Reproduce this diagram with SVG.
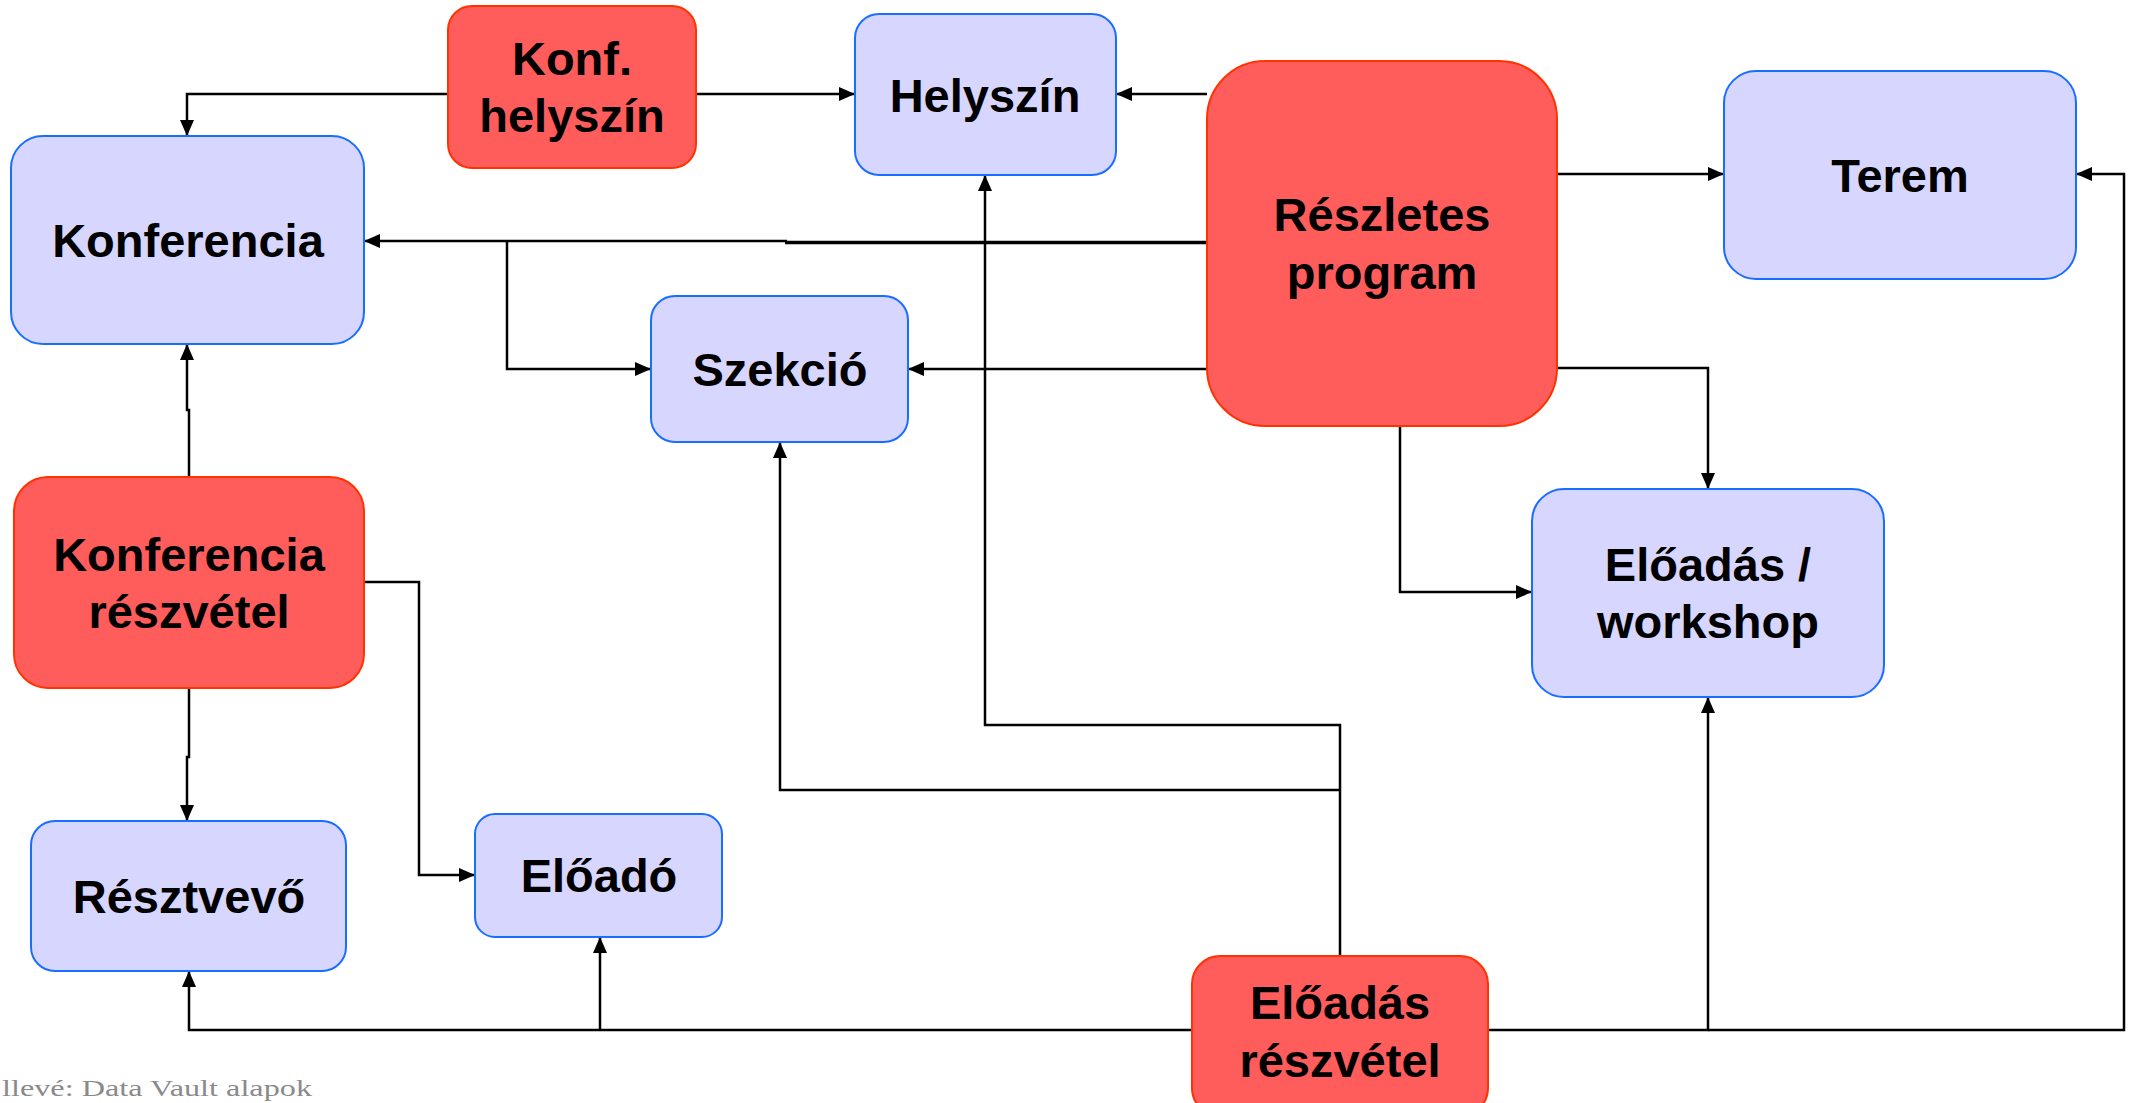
<svg xmlns="http://www.w3.org/2000/svg" width="2136" height="1103" viewBox="0 0 2136 1103">
  <defs>
    <marker id="arrow" viewBox="0 0 16 14" refX="16" refY="7" markerWidth="16" markerHeight="14" markerUnits="userSpaceOnUse" orient="auto">
      <path d="M0,0 L16,7 L0,14 z" fill="#000"/>
    </marker>
    <style>
      .entity { fill: #D6D6FF; stroke: #1A6EFF; stroke-width: 2; }
      .link { fill: #FF5C5C; stroke: #FF3300; stroke-width: 2; }
      .label { font-family: "Liberation Sans", Arial, sans-serif; font-weight: bold; font-size: 47px; fill: #000; text-anchor: middle; }
      .conn { fill: none; stroke: #000; stroke-width: 2.5; }
      .conn-arrow { marker-end: url(#arrow); }
      .caption { font-family: "Liberation Serif", "Times New Roman", serif; font-size: 24px; fill: #8a8a8a; }
    </style>
  </defs>

  <rect width="2136" height="1103" fill="#fff"/>

  <!-- connectors -->
  <g id="connectors">
    <path class="conn conn-arrow" d="M448,94 H187 V136"/>
    <path class="conn conn-arrow" d="M696,94 H855"/>
    <path class="conn conn-arrow" d="M1207,94 H1116"/>
    <path class="conn" d="M1207,242.5 H785" style="stroke-width:3.5"/>
    <path class="conn conn-arrow" d="M787,241 H364"/>
    <path class="conn conn-arrow" d="M507,241 V369 H651"/>
    <path class="conn conn-arrow" d="M1207,369 H908"/>
    <path class="conn conn-arrow" d="M1557,174 H1724"/>
    <path class="conn conn-arrow" d="M1557,368 H1708 V489"/>
    <path class="conn conn-arrow" d="M1400,426 V592 H1532"/>
    <path class="conn conn-arrow" d="M189,477 V410 H187 V344"/>
    <path class="conn conn-arrow" d="M189,688 V757 H187 V821"/>
    <path class="conn conn-arrow" d="M364,582 H419 V875 H475"/>
    <path class="conn conn-arrow" d="M1340,956 V725 H985 V175"/>
    <path class="conn conn-arrow" d="M1340,790 H780 V442"/>
    <path class="conn conn-arrow" d="M1192,1030 H189 V971"/>
    <path class="conn conn-arrow" d="M600,1030 V937"/>
    <path class="conn conn-arrow" d="M1488,1030 H1708 V697"/>
    <path class="conn conn-arrow" d="M1708,1030 H2124 V174 H2076"/>
  </g>

  <!-- nodes -->
  <g id="konf-helyszin">
    <rect class="link" x="448" y="6" width="248" height="162" rx="24"/>
    <text class="label" x="572" y="75">Konf.</text>
    <text class="label" x="572" y="132">helyszín</text>
  </g>
  <g id="helyszin">
    <rect class="entity" x="855" y="14" width="261" height="161" rx="24"/>
    <text class="label" x="985" y="112">Helyszín</text>
  </g>
  <g id="reszletes-program">
    <rect class="link" x="1207" y="61" width="350" height="365" rx="58"/>
    <text class="label" x="1382" y="231">Részletes</text>
    <text class="label" x="1382" y="289">program</text>
  </g>
  <g id="terem">
    <rect class="entity" x="1724" y="71" width="352" height="208" rx="32"/>
    <text class="label" x="1900" y="192">Terem</text>
  </g>
  <g id="konferencia">
    <rect class="entity" x="11" y="136" width="353" height="208" rx="32"/>
    <text class="label" x="188" y="257">Konferencia</text>
  </g>
  <g id="szekcio">
    <rect class="entity" x="651" y="296" width="257" height="146" rx="24"/>
    <text class="label" x="780" y="386">Szekció</text>
  </g>
  <g id="konferencia-reszvetel">
    <rect class="link" x="14" y="477" width="350" height="211" rx="34"/>
    <text class="label" x="189" y="571">Konferencia</text>
    <text class="label" x="189" y="628">részvétel</text>
  </g>
  <g id="eloadas-workshop">
    <rect class="entity" x="1532" y="489" width="352" height="208" rx="32"/>
    <text class="label" x="1708" y="581">Előadás /</text>
    <text class="label" x="1708" y="638">workshop</text>
  </g>
  <g id="resztvevo">
    <rect class="entity" x="31" y="821" width="315" height="150" rx="24"/>
    <text class="label" x="189" y="913">Résztvevő</text>
  </g>
  <g id="eloado">
    <rect class="entity" x="475" y="814" width="247" height="123" rx="20"/>
    <text class="label" x="599" y="892">Előadó</text>
  </g>
  <g id="eloadas-reszvetel">
    <rect class="link" x="1192" y="956" width="296" height="160" rx="28"/>
    <text class="label" x="1340" y="1019">Előadás</text>
    <text class="label" x="1340" y="1077">részvétel</text>
  </g>

  <!-- source line along the lower edge -->
  <text class="caption" x="2" y="1096" textLength="310" lengthAdjust="spacingAndGlyphs">llevé: Data Vault alapok</text>
</svg>
